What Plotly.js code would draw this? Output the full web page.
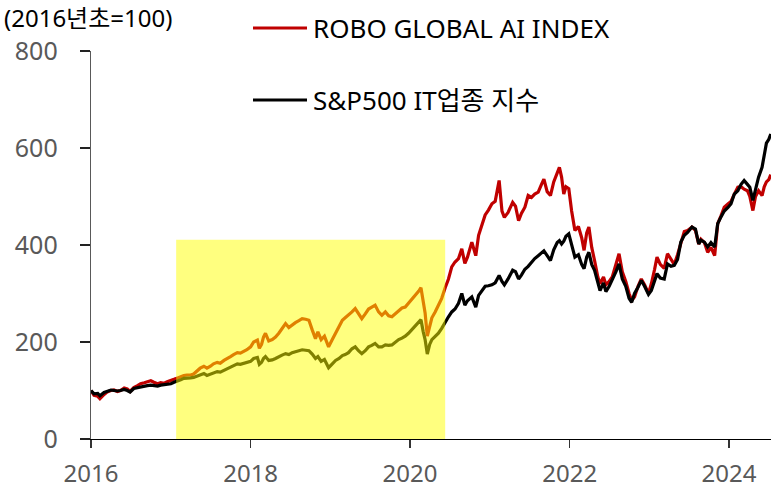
<!DOCTYPE html>
<html>
<head>
<meta charset="utf-8">
<script src="https://cdn.plot.ly/plotly-3.0.1.min.js"></script>
<style>html,body{margin:0;padding:0;background:#fff;}#chart{width:771px;height:492px;}</style>
</head>
<body>
<div id="chart"></div>
<script>
const seriesNames = ['ROBO GLOBAL AI INDEX', 'S&P500 IT업종 지수'];
const unitLabel = '(2016년초=100)';
const highlightStart = '2017-01-25';
const highlightEnd = '2020-06-10';
const highlightTop = 411;

const dates = [
'2016-01-01','2016-01-15','2016-02-01','2016-02-11','2016-03-01','2016-03-15','2016-04-01','2016-04-15','2016-05-01','2016-05-15','2016-06-01','2016-06-15','2016-06-28','2016-07-15','2016-08-01','2016-08-15','2016-09-01','2016-09-15','2016-10-01','2016-10-15','2016-11-01','2016-11-15','2016-12-01','2016-12-15',
'2017-01-01','2017-01-15','2017-02-01','2017-02-15','2017-03-01','2017-03-15','2017-04-01','2017-04-15','2017-05-01','2017-05-15','2017-06-01','2017-06-15','2017-07-01','2017-07-15','2017-08-01','2017-08-15','2017-09-01','2017-09-15','2017-10-01','2017-10-15','2017-11-01','2017-11-15','2017-12-01','2017-12-15',
'2018-01-01','2018-01-15','2018-02-01','2018-02-10','2018-02-20','2018-03-01','2018-03-10','2018-03-25','2018-04-10','2018-04-25','2018-05-10','2018-05-25','2018-06-10','2018-06-25','2018-07-10','2018-07-25','2018-08-10','2018-08-25','2018-09-10','2018-09-25','2018-10-10','2018-10-25','2018-11-05','2018-11-20','2018-12-05','2018-12-24',
'2019-01-10','2019-01-25','2019-02-10','2019-02-25','2019-03-10','2019-03-25','2019-04-10','2019-04-25','2019-05-10','2019-05-25','2019-06-10','2019-06-25','2019-07-10','2019-07-25','2019-08-10','2019-08-25','2019-09-10','2019-09-25','2019-10-10','2019-10-25','2019-11-10','2019-11-25','2019-12-10','2019-12-25',
'2020-01-10','2020-01-25','2020-02-10','2020-02-20','2020-03-01','2020-03-10','2020-03-20','2020-03-31','2020-04-10','2020-04-25','2020-05-10','2020-05-25','2020-06-10','2020-06-25','2020-07-10','2020-07-25','2020-08-10','2020-08-25','2020-09-08','2020-09-20','2020-10-10','2020-10-28','2020-11-10','2020-11-25','2020-12-10','2020-12-25',
'2021-01-10','2021-01-25','2021-02-12','2021-02-25','2021-03-08','2021-03-25','2021-04-15','2021-04-28','2021-05-12','2021-05-25','2021-06-10','2021-06-25','2021-07-10','2021-07-25','2021-08-10','2021-08-25','2021-09-05','2021-09-20','2021-10-05','2021-10-20','2021-11-05','2021-11-15','2021-11-25','2021-12-05','2021-12-15','2021-12-28',
'2022-01-10','2022-01-25','2022-02-10','2022-02-25','2022-03-08','2022-03-20','2022-03-30','2022-04-12','2022-04-25','2022-05-10','2022-05-20','2022-06-05','2022-06-16','2022-07-01','2022-07-15','2022-08-01','2022-08-15','2022-08-30','2022-09-15','2022-09-30','2022-10-12','2022-10-25','2022-11-10','2022-11-25','2022-12-10','2022-12-28',
'2023-01-10','2023-01-25','2023-02-05','2023-02-20','2023-03-10','2023-03-25','2023-04-10','2023-04-25','2023-05-10','2023-05-25','2023-06-10','2023-06-25','2023-07-15','2023-07-31','2023-08-15','2023-08-25','2023-09-10','2023-09-25','2023-10-10','2023-10-27','2023-11-10','2023-11-25','2023-12-10','2023-12-28',
'2024-01-10','2024-01-25','2024-02-10','2024-02-25','2024-03-10','2024-03-25','2024-04-05','2024-04-19','2024-05-01','2024-05-15','2024-05-31','2024-06-10','2024-06-20','2024-07-01','2024-07-10'
];

const roboValues = [
100,90,88,83,92,97,100,101,98,100,105,103,98,106,110,114,116,118,120,117,114,116,115,118,
120,123,126,129,131,132,132,134,140,146,150,146,150,155,158,156,162,165,170,174,178,177,180,184,
190,200,204,187,195,210,218,202,205,210,218,228,238,230,236,240,244,248,247,245,225,207,221,205,212,190,
205,217,230,245,250,255,262,269,258,248,258,268,272,276,262,255,262,254,252,258,265,270,272,280,
288,295,305,312,285,260,212,235,250,262,275,290,312,330,355,365,372,392,362,375,406,378,420,440,462,472,
485,490,533,470,457,467,488,480,450,465,478,502,498,505,509,525,536,510,502,530,550,560,540,505,520,516,
470,430,438,415,389,425,437,395,368,334,320,334,318,325,334,360,382,345,325,300,286,293,315,330,318,300,
320,350,375,360,352,382,372,360,380,406,428,430,437,430,402,412,405,385,395,378,444,460,478,485,
490,505,519,520,515,512,500,471,500,512,502,520,530,535,545
];

const itValues = [
100,93,94,89,96,99,101,100,99,100,102,100,97,104,106,108,109,110,111,110,109,111,112,113,
114,117,119,122,125,125,126,127,130,132,135,131,134,137,139,138,142,145,149,152,155,154,156,158,
160,166,168,154,158,166,170,162,163,166,170,173,176,174,178,180,181,184,183,182,175,166,170,160,164,147,
155,162,166,172,174,178,186,190,182,176,182,190,193,197,190,190,194,193,194,200,205,208,212,218,
226,232,242,246,222,205,175,195,205,212,218,228,242,252,262,268,280,300,276,285,293,272,296,305,315,316,
318,322,337,325,318,330,348,345,330,338,350,356,365,372,378,385,388,378,368,390,405,409,402,408,418,423,
400,375,380,360,351,375,385,360,348,320,306,322,304,315,327,345,361,330,315,290,282,300,313,327,315,298,
306,325,341,332,330,361,356,358,370,406,420,426,437,433,402,410,406,396,405,396,444,458,470,478,
485,505,512,525,533,525,519,492,515,540,560,585,610,618,629
];

const traces = [
  {x: dates, y: roboValues, name: seriesNames[0], type: 'scatter', mode: 'lines',
   line: {color: '#C00000', width: 3.2}, showlegend: false},
  {x: dates, y: itValues, name: seriesNames[1], type: 'scatter', mode: 'lines',
   line: {color: '#000000', width: 3.2}, showlegend: false}
];

// plot-area geometry helpers (for legend placement in paper units)
const L = 91, R = 771, T = 51, B = 439;
const px = v => (v - L) / (R - L);
const py = v => (B - v) / (B - T);

const layout = {
  width: 771, height: 492,
  margin: {l: L, r: 771 - R, t: T, b: 492 - B, pad: 0},
  paper_bgcolor: '#ffffff', plot_bgcolor: '#ffffff',
  font: {family: 'Noto Sans, Noto Sans CJK KR, sans-serif', color: '#595959', size: 25},
  xaxis: {
    type: 'date', range: ['2016-01-01', '2024-07-11'],
    tick0: '2016-01-01', dtick: 'M24', tickformat: '%Y',
    showgrid: false, zeroline: false,
    showline: true, linecolor: '#000000', linewidth: 1.3,
    ticks: 'outside', ticklen: 8, tickwidth: 1.3, tickcolor: '#333333',
    tickfont: {size: 24, color: '#595959'}, ticklabelstandoff: 5
  },
  yaxis: {
    range: [0, 800], tick0: 0, dtick: 200,
    showgrid: false, zeroline: false,
    showline: true, linecolor: '#595959', linewidth: 1.3,
    ticks: 'outside', ticklen: 10, tickwidth: 1.3, tickcolor: '#222222',
    tickfont: {size: 25, color: '#595959'}, ticklabelstandoff: 17
  },
  shapes: [
    {type: 'rect', xref: 'x', yref: 'y', x0: highlightStart, x1: highlightEnd, y0: -12, y1: highlightTop,
     fillcolor: 'rgba(255,255,0,0.5)', line: {width: 0}, layer: 'above'},
    {type: 'line', xref: 'paper', yref: 'paper', x0: px(253), x1: px(307), y0: py(28), y1: py(28),
     line: {color: '#C00000', width: 3}},
    {type: 'line', xref: 'paper', yref: 'paper', x0: px(253), x1: px(307), y0: py(100), y1: py(100),
     line: {color: '#000000', width: 3}}
  ],
  annotations: [
    {text: seriesNames[0], xref: 'paper', yref: 'paper', x: px(311), y: py(28), xanchor: 'left', yanchor: 'middle',
     showarrow: false, font: {size: 26, color: '#000000'}},
    {text: seriesNames[1], xref: 'paper', yref: 'paper', x: px(311), y: py(100), xanchor: 'left', yanchor: 'middle',
     showarrow: false, font: {size: 26, color: '#000000'}},
    {text: unitLabel, xref: 'paper', yref: 'paper', x: px(2), y: py(17), xanchor: 'left', yanchor: 'middle',
     showarrow: false, font: {size: 24, color: '#000000'}}
  ],
  showlegend: false
};

Plotly.newPlot('chart', traces, layout, {staticPlot: true, displayModeBar: false});
</script>
</body>
</html>
